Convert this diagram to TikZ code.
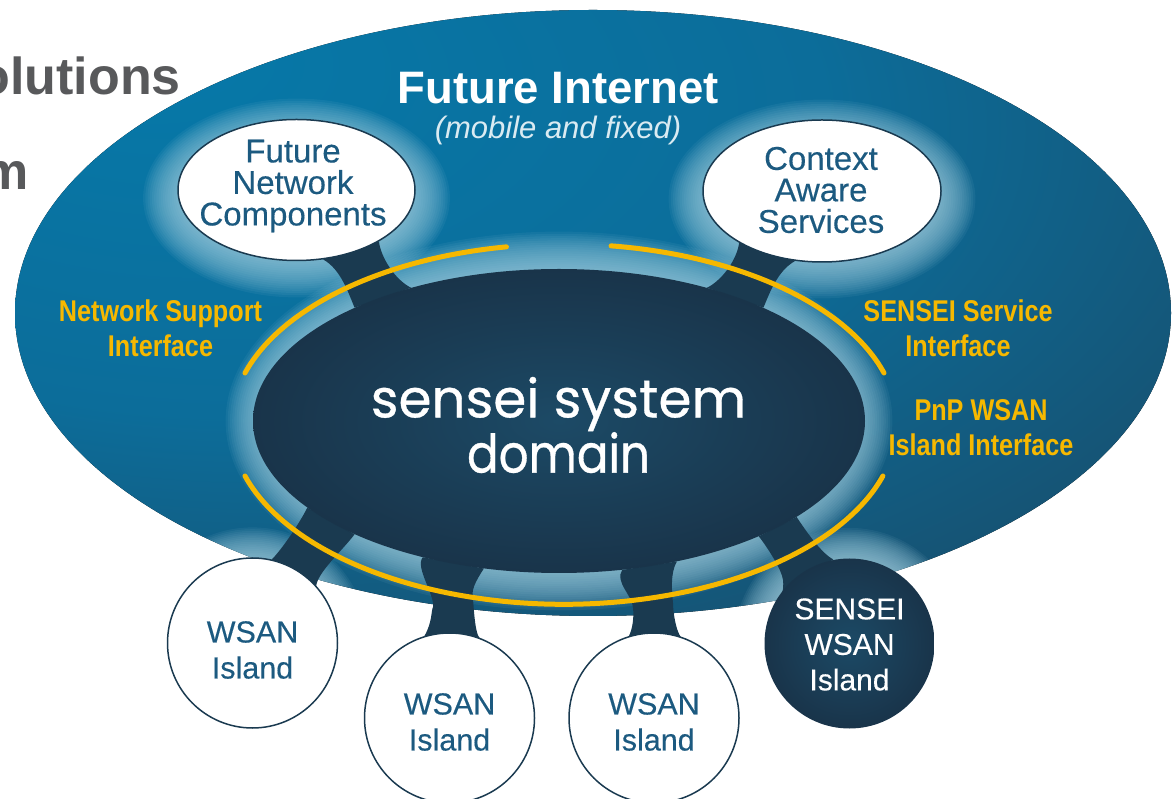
\documentclass[tikz,border=0pt]{standalone}
\usepackage{fontspec}
\setmainfont{Liberation Sans}
\newfontfamily\labelfont[FakeBold=0.3]{Liberation Sans}
\newfontfamily\narrowfont[FakeStretch=0.84]{Liberation Sans}
\newfontfamily\domainfont[FakeBold=0.6]{Poppins}
\newfontfamily\domainnarrow[FakeStretch=0.88,FakeBold=0.6]{Poppins}
\usetikzlibrary{shapes.geometric}

\definecolor{inettop}{HTML}{0679A9}
\definecolor{inetmid}{HTML}{0C6D9A}
\definecolor{inetout}{HTML}{17506F}
\definecolor{sysin}{HTML}{1C4A66}
\definecolor{sysout}{HTML}{19344A}
\definecolor{neckcol}{HTML}{1A3A50}
\definecolor{labelcol}{HTML}{1C5A80}
\definecolor{ifcol}{HTML}{F6B800}
\definecolor{glowcol}{HTML}{A6D2E2}
\definecolor{cutcol}{HTML}{58595B}

\pgfdeclareradialshading{inetshade}{\pgfpoint{-20bp}{22bp}}{color(0bp)=(inettop); color(25bp)=(inetmid); color(45bp)=(inetout); color(100bp)=(inetout)}
\pgfdeclarelayer{back}
\pgfsetlayers{back,main}

\begin{document}
\begin{tikzpicture}[x=1pt,y=1pt]
\tikzstyle{bubble}=[ellipse,draw=neckcol,line width=1.5pt,fill=white,inner sep=0pt]
\tikzstyle{island}=[circle,draw=neckcol,line width=1.5pt,fill=white,inner sep=0pt,minimum size=170pt]
\tikzstyle{bubbletext}=[text=labelcol,inner sep=0pt,align=center,font=\labelfont\fontsize{33}{31.5}\selectfont]
\tikzstyle{islandtext}=[text=labelcol,inner sep=0pt,align=center,font=\labelfont\fontsize{30.5}{36}\selectfont]
\tikzstyle{neck}=[fill=neckcol]
\tikzstyle{halo}=[fill=glowcol,opacity=0.07]
\tikzstyle{ifarc}=[draw=ifcol,line width=5pt,line cap=round]
\tikzstyle{iflabel}=[text=ifcol,align=center,font=\narrowfont\bfseries\fontsize{30}{35}\selectfont]
\tikzstyle{cuttext}=[text=cutcol,anchor=base east,inner sep=0pt,font=\bfseries\fontsize{52}{52}\selectfont]

\useasboundingbox (0,0) rectangle (1175,798);

\node[ellipse,minimum width=612pt,minimum height=304pt,inner sep=0pt,inner color=sysin,outer color=sysout] (system) at (559,377) {};
\node[bubble,minimum width=237pt,minimum height=141pt] (fnc) at (296.5,608) {};
\node[bubble,minimum width=238pt,minimum height=142pt] (cas) at (822,607) {};
\node[island] (wsan1) at (252.5,155) {};
\node[island] (wsan2) at (449.5,80) {};
\node[island] (wsan3) at (654,80) {};
\node[island,draw=none,fill=none,inner color=sysin,outer color=sysout] (sensei) at (849.5,154.5) {};

\begin{pgfonlayer}{back}
\fill[shading=inetshade] (593,485) ellipse [x radius=578pt,y radius=303pt];
\begin{scope}
\clip (593,485) ellipse [x radius=578pt,y radius=303pt];
\foreach \s in {0,...,17} {
\fill[halo] (system.center) ellipse [x radius={296pt+2.2pt*\s},y radius={152pt+2.2pt*\s}];
\fill[halo] ([yshift=-8pt]fnc.center) ellipse [x radius={116pt+2.2pt*\s},y radius={62pt+2.2pt*\s}];
\fill[halo] ([yshift=-8pt]cas.center) ellipse [x radius={116pt+2.2pt*\s},y radius={62pt+2.2pt*\s}];
\fill[halo] (wsan1.center) circle [radius={85pt+1.8pt*\s}];
\fill[halo] (sensei.center) circle [radius={85pt+1.8pt*\s}];
}
\end{scope}
\fill[neck] (fnc.-69) .. controls +(18,-10) and +(-6,14) .. (system.151) -- (system.138) .. controls +(-16,8) and +(2,-16) .. (fnc.-32) -- cycle;
\fill[neck] (cas.-111) .. controls +(-18,-10) and +(6,14) .. (system.29) -- (system.42) .. controls +(16,8) and +(-2,-16) .. (cas.-148) -- cycle;
\fill[neck] (wsan1.77) .. controls +(10,10) and +(-8,-16) .. (system.-161) -- (system.-151) .. controls +(-12,-16) and +(2,14) .. (wsan1.42) -- cycle;
\fill[neck] (wsan2.107) .. controls +(8,14) and +(-2,-4) .. (433,191) .. controls +(2,12) and +(-8,-10) .. (system.-135) -- (system.-117) .. controls +(-9,-14) and +(-2,10) .. (473,198) .. controls +(1,-8) and +(-8,-4) .. (wsan2.67) -- cycle;
\fill[neck] (wsan3.107) .. controls +(4,8) and +(1,-8) .. (633,190) .. controls +(0,12) and +(-8,-12) .. (system.-67) -- (system.-50) .. controls +(-7,-12) and +(-1,10) .. (673,195) .. controls +(0,-12) and +(-8,-5) .. (wsan3.68) -- cycle;
\fill[neck] (sensei.151) .. controls +(8,6) and +(1,-10) .. (783,218) .. controls +(-1,10) and +(8,-10) .. (system.-30) -- (system.-22) .. controls +(8,-12) and +(-12,6) .. (sensei.101) -- cycle;
\end{pgfonlayer}

\node[text=white,inner sep=0pt,font=\bfseries\fontsize{45.5}{45.5}\selectfont] (title) at (558,710) {Future Internet};
\node[text=white!85!inettop,inner sep=0pt,font=\itshape\fontsize{31}{31}\selectfont] (subtitle) at (558,668) {(mobile and fixed)};
\node[text=white,inner sep=0pt,align=center,font=\domainfont\fontsize{53.2}{52}\selectfont] (domain) at (558.5,373) {sensei system\\{\domainnarrow domain}};

\node[bubbletext] (fnctext) at (293,612) {Future\\Network\\Components};
\node[bubbletext] (castext) at (821,608) {Context\\Aware\\Services};
\node[islandtext] (wsan1text) at ([yshift=-7pt]wsan1.center) {WSAN\\Island};
\node[islandtext] (wsan2text) at ([yshift=-4pt]wsan2.center) {WSAN\\Island};
\node[islandtext] (wsan3text) at ([yshift=-4pt]wsan3.center) {WSAN\\Island};
\node[text=white,inner sep=0pt,align=center,font=\labelfont\fontsize{30}{35.5}\selectfont] (senseitext) at ([yshift=-1pt]sensei.center) {SENSEI\\WSAN\\Island};

\node[iflabel] (nsi) at (160.5,470) {Network Support\\Interface};
\node[iflabel] (ssi) at (958,470) {SENSEI Service\\Interface};
\node[iflabel] (pnp) at (981,370) {PnP WSAN\\Island Interface};

\coordinate (nsiend) at (245,425);
\coordinate (ssiend) at (884,425);
\coordinate (pnpend) at (245,322);
\draw[ifarc] (nsiend) arc [start angle=163.5,end angle=100,x radius=333pt,y radius=180pt];
\draw[ifarc] (ssiend) arc [start angle=16.5,end angle=82,x radius=333pt,y radius=180pt];
\draw[ifarc] (pnpend) arc [start angle=196.7,end angle=343.3,x radius=333pt,y radius=180pt];

\node[cuttext] (cut1) at (181,703) {olutions};
\node[cuttext] (cut2) at (29,608) {m};
\end{tikzpicture}
\end{document}
